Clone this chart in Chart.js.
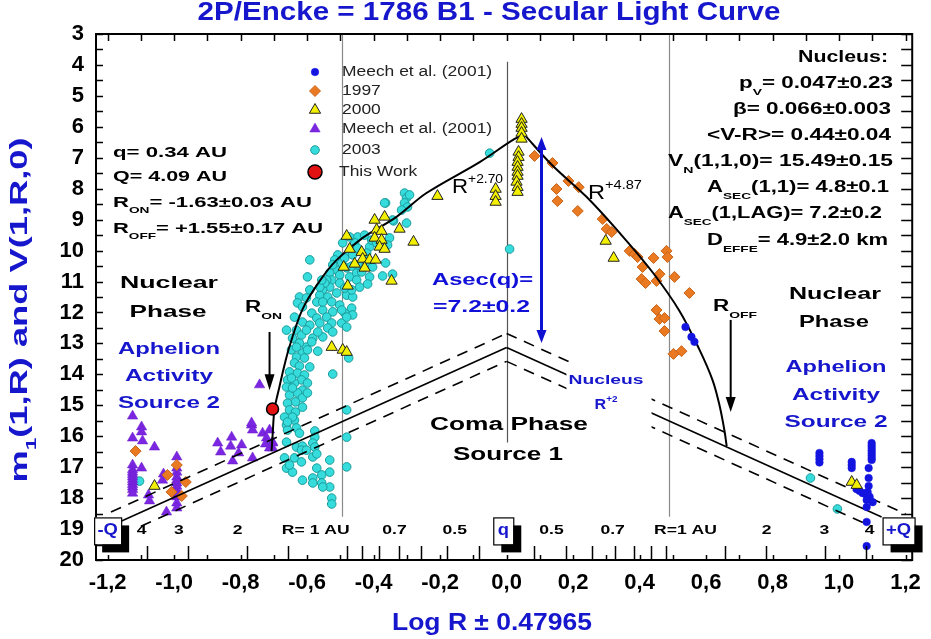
<!DOCTYPE html>
<html><head><meta charset="utf-8">
<script src="https://cdn.jsdelivr.net/npm/chart.js@4/dist/chart.umd.min.js"></script>
<style>html,body{margin:0;padding:0;background:#fff;}#wrap{width:931px;height:639px;}</style>
</head><body><div id="wrap"><canvas id="c" width="931" height="639"></canvas></div>
<script>
// ---------- DATA (x = Log R ± 0.47965, y = magnitude) ----------
const xTickValues = [-1.2,-1.0,-0.8,-0.6,-0.4,-0.2,0,0.2,0.4,0.6,0.8,1.0,1.2];
const yTickValues = [3,4,5,6,7,8,9,10,11,12,13,14,15,16,17,18,19,20];

const meech2001Circles = [[0.538,12.47],[0.556,12.79],[0.565,12.95],
 [0.941,16.54],[0.941,16.64],[0.941,16.74],[0.941,16.85],
 [1.038,16.83],[1.038,16.93],[1.038,17.03],
 [1.098,16.22],[1.098,16.30],[1.098,16.38],[1.098,16.46],[1.098,16.54],[1.098,16.62],[1.098,16.70],[1.098,16.77],
 [1.089,17.03],[1.089,17.35],[1.089,17.61],[1.086,17.80],[1.083,17.90],[1.092,17.96],[1.071,17.84],[1.062,17.77],
 [1.053,17.71],[1.083,18.06],[1.101,18.13],[1.083,18.29],[1.083,18.77],[1.083,19.55]];

const y1997 = [[0.084,6.94],[0.138,7.17],[0.186,7.75],[0.217,7.95],[0.150,8.01],[0.153,8.40],[0.214,8.72],[0.289,8.98],
 [0.301,9.30],[0.316,9.40],[0.370,10.01],[0.385,10.11],[0.394,10.21],[0.442,10.24],[0.481,10.01],[0.484,10.21],
 [0.409,10.53],[0.460,10.76],[0.505,10.85],[0.406,10.92],[0.418,11.05],[0.451,10.98],[0.550,11.37],[0.451,11.92],
 [0.460,12.21],[0.475,12.18],[0.475,12.60],[0.502,13.34],[0.526,13.25],
 [-1.116,16.48],[-0.992,16.93],[-1.020,17.25],[-0.965,17.48],[-1.008,17.80],[-0.977,17.93]];

const y2000 = [[-0.208,8.24],[-0.397,9.01],[-0.367,8.91],[-0.322,9.30],[-0.481,9.53],[-0.391,9.33],[-0.376,9.37],
 [-0.397,9.59],[-0.376,9.66],[-0.280,9.72],[-0.472,9.95],[-0.436,10.05],[-0.382,9.88],[-0.367,9.95],[-0.433,10.27],
 [-0.412,10.30],[-0.394,10.30],[-0.457,10.43],[-0.427,10.56],[-0.490,10.53],[-0.346,10.98],[-0.478,11.14],
 [-0.526,13.12],[-0.493,13.21],[-0.481,13.28],
 [0.045,5.75],[0.045,5.91],[0.045,6.04],[0.045,6.20],[0.045,6.39],[0.036,6.81],[0.036,6.98],[0.033,7.14],
 [0.033,7.30],[0.033,7.46],[0.033,7.59],[0.030,7.78],[0.033,7.95],[0.033,8.11],
 [-0.033,8.01],[-0.033,8.24],[-0.033,8.43],
 [0.298,9.69],[0.322,10.24],[-1.059,17.61],[1.038,17.48],[1.053,17.58]];

const meech2001Triangles = [[-1.125,15.35],[-1.098,15.70],[-1.098,15.86],[-1.125,16.06],[-1.095,16.15],[-1.059,16.35],
 [-1.125,16.93],[-1.098,17.03],[-1.125,17.08],[-1.125,17.16],[-1.125,17.24],[-1.125,17.32],[-1.125,17.40],[-1.125,17.48],
 [-1.125,17.56],[-1.125,17.64],[-1.125,17.72],[-1.125,17.84],[-1.077,17.90],[-1.074,18.09],[-1.032,17.22],[-1.035,17.42],
 [-0.992,16.67],[-0.992,17.03],[-0.992,17.16],[-0.992,17.32],[-0.992,17.42],[-0.992,17.51],[-0.992,17.62],[-0.992,17.74],
 [-0.992,17.85],[-0.992,17.96],[-0.992,18.16],[-0.992,18.32],[-1.023,18.45],
 [-0.869,16.22],[-0.827,16.03],[-0.830,16.32],[-0.797,16.28],[-0.860,16.51],[-0.806,16.54],[-0.824,16.80],[-0.764,16.70],
 [-0.767,15.64],[-0.764,15.80],[-0.734,15.90],[-0.722,16.06],[-0.713,15.80],[-0.704,16.19],[-0.704,16.38],[-0.743,14.34],
 [-0.767,15.57],[-0.704,16.22],[-0.713,16.38],[-0.725,16.25]];

const y2003 = [[-0.307,8.14],[-0.301,8.30],[-0.307,8.46],[-0.298,8.59],[-0.316,8.69],[-0.292,8.20],[-0.364,8.46],
 [-0.340,9.04],[-0.301,9.11],[-0.352,9.59],[-0.358,9.82],[-0.364,10.40],[-0.373,10.82],[-0.343,10.76],[-0.412,9.88],
 [-0.421,10.08],[-0.412,10.85],[-0.448,9.56],[-0.427,9.50],[-0.457,9.75],[-0.472,10.05],[-0.508,10.14],[-0.517,10.30],
 [-0.496,10.40],[-0.481,10.56],[-0.511,10.63],[-0.532,10.72],[-0.502,10.79],[-0.472,10.85],[-0.451,10.72],[-0.436,10.69],
 [-0.526,10.95],[-0.502,11.05],[-0.532,11.18],[-0.553,11.27],[-0.511,11.37],[-0.481,11.44],[-0.463,11.50],[-0.562,11.44],
 [-0.538,11.50],[-0.571,11.66],[-0.526,11.66],[-0.502,11.76],[-0.466,11.86],[-0.553,11.92],[-0.523,11.98],[-0.487,12.02],
 [-0.592,10.30],[-0.599,10.85],[-0.623,11.50],[-0.629,11.69],[-0.614,11.82],[-0.586,12.02],[-0.571,12.18],[-0.638,12.15],
 [-0.614,12.31],[-0.592,12.41],[-0.541,12.15],[-0.526,12.34],[-0.496,12.34],[-0.481,12.47],[-0.538,12.50],[-0.523,12.63],
 [-0.662,12.57],[-0.632,12.57],[-0.617,12.73],[-0.583,12.83],[-0.553,12.79],[-0.629,12.99],[-0.602,13.12],[-0.644,12.83],
 [-0.623,12.99],[-0.586,12.95],[-0.568,13.25],[-0.614,13.31],[-0.632,13.44],[-0.608,13.47],[-0.638,13.63],[-0.623,13.73],
 [-0.592,13.76],[-0.653,13.92],[-0.629,13.96],[-0.608,14.02],[-0.659,14.18],[-0.617,14.18],[-0.638,14.28],[-0.662,14.41],
 [-0.614,14.51],[-0.629,14.60],[-0.653,14.67],[-0.614,14.76],[-0.635,14.89],[-0.659,14.93],[-0.614,15.06],[-0.653,15.15],
 [-0.635,15.22],[-0.668,15.38],[-0.638,15.48],[-0.662,15.64],[-0.632,15.73],[-0.659,15.80],[-0.577,15.83],[-0.577,16.03],
 [-0.662,16.19],[-0.632,16.35],[-0.614,16.32],[-0.617,16.45],[-0.583,16.22],[-0.577,16.35],[-0.638,16.70],[-0.668,16.70],
 [-0.583,16.67],[-0.571,16.57],[-0.662,17.03],[-0.644,17.16],[-0.571,17.03],[-0.556,17.25],[-0.532,17.16],[-0.532,16.77],
 [-0.614,17.42],[-0.583,17.35],[-0.583,17.51],[-0.556,17.51],[-0.532,17.64],[-0.526,18.00],[-0.526,18.19],
 [-0.481,15.15],[-0.481,16.03],[-0.481,16.99],[-0.475,13.47],[-0.523,13.99],
 [-0.523,10.46],[-0.487,10.24],[-0.463,10.14],[-0.448,9.92],[-0.466,10.50],[-0.448,10.46],[-0.421,10.40],[-0.403,10.53],
 [-0.406,9.66],[-0.391,9.75],[-0.472,9.56],[-0.493,9.75],[-0.541,10.95],[-0.547,11.05],[-0.562,11.18],[-0.556,10.95],
 [-0.592,11.27],[-0.602,11.53],[-0.451,10.95],[-0.442,11.18],[-0.466,11.27],[-0.487,11.21],[-0.553,11.66],[-0.496,11.92],
 [-0.463,12.08],[-0.562,12.34],[-0.602,12.57],[-0.568,12.63],[-0.481,12.15],
 [-0.647,13.21],[-0.632,13.12],[-0.599,13.21],[-0.647,14.12],[-0.599,14.28],[-0.644,14.44],[-0.599,14.60],[-0.644,15.38],
 [-0.659,15.54],[-0.623,15.90],[-0.602,16.45],[-0.653,16.93],[-0.617,16.83],[-0.553,17.64],
 [-0.051,6.85],[-0.367,8.46],[-0.343,9.01],[-0.418,11.08],[0.009,9.95],[-1.104,17.45],[0.914,17.35],[0.995,18.35]];

const thisWork = [[-0.704,15.12]];

// fitted curves and nucleus lines
const fitRon = [[-0.707,16.48],[-0.704,16.0],[-0.698,15.13],[-0.683,14.39],[-0.668,13.7],[-0.653,13.1],[-0.614,11.9],
 [-0.562,10.98],[-0.511,10.3],[-0.433,9.59],[-0.331,8.91],[-0.241,8.14],[-0.081,7.14],[0.024,6.39],[0.054,6.26]];
const fitRoff = [[0.054,6.26],[0.138,7.25],[0.241,8.27],[0.340,9.43],[0.439,10.7],[0.520,11.95],[0.580,13.2],
 [0.620,14.2],[0.641,15.03],[0.655,15.8],[0.662,16.32]];
const nucleusLeft = [[-1.158,18.74],[0,13.13]];
const nucleusRight = [[0,13.13],[1.128,18.61]];
const nucleusLeftUpper = [[-1.19,18.45],[0,12.68]];
const nucleusLeftLower = [[-1.10,18.91],[0,13.58]];
const nucleusRightUpper = [[0,12.68],[1.20,18.51]];
const nucleusRightLower = [[0,13.58],[1.08,18.83]];

const auLineX = [-0.495, 0.487];
const rAxisLabels = ['4','3','2','R= 1 AU','0.7','0.5','0.5','0.7','R=1 AU','2','3','4'];
const rAxisPos = [-1.098,-0.986,-0.809,-0.574,-0.337,-0.156,0.135,0.319,0.538,0.782,0.956,1.092];
const rMinorTicks = [-1.082,-0.957,-0.781,-0.656,-0.48,-0.434,-0.383,-0.325,-0.258,-0.179,-0.082,
 0.082,0.179,0.258,0.325,0.383,0.434,0.48,0.656,0.781,0.957,1.082];

// ---------- helpers ----------
const SANS = '"Liberation Sans", Arial, Helvetica, sans-serif';
const NARROW = '"Liberation Sans Narrow", "Arial Narrow", "Liberation Sans", Arial, sans-serif';
const toXY = a => a.map(p => ({x:p[0], y:p[1]}));

function rich(ctx, segs, x, y, o) {
  const size = o.size, weight = o.weight || 'bold', fam = o.family || SANS;
  const parts = segs.map(s => {
    const isObj = typeof s === 'object';
    const t = isObj ? s.t : s;
    const sub = isObj && s.sub === 1, sup = isObj && s.sup === 1;
    const sz = (sub || sup) ? size * 0.62 : size;
    ctx.font = `${weight} ${sz}px ${fam}`;
    return {t, sz, sub, sup, w: ctx.measureText(t).width};
  });
  const nat = parts.reduce((a, p) => a + p.w, 0);
  const k = o.width ? o.width / nat : (o.hs || 1);
  const tot = nat * k;
  const x0 = o.align === 'right' ? x - tot : (o.align === 'left' ? x : x - tot / 2);
  ctx.save();
  ctx.fillStyle = o.color || '#000';
  ctx.textBaseline = 'middle'; ctx.textAlign = 'left';
  ctx.translate(x0, y); ctx.scale(k, 1);
  let cx = 0;
  for (const p of parts) {
    ctx.font = `${weight} ${p.sz}px ${fam}`;
    const dy = p.sub ? size * 0.5 : (p.sup ? -size * 0.38 : 0);
    ctx.fillText(p.t, cx, dy);
    cx += p.w;
  }
  ctx.restore();
}

function arrow(ctx, x, y1, y2, color, lw, hl, hw) {
  ctx.save(); ctx.strokeStyle = color; ctx.fillStyle = color; ctx.lineWidth = lw;
  const dir = y2 > y1 ? 1 : -1;
  ctx.beginPath(); ctx.moveTo(x, y1); ctx.lineTo(x, y2 - dir * hl * 0.6); ctx.stroke();
  ctx.beginPath(); ctx.moveTo(x, y2); ctx.lineTo(x - hw, y2 - dir * hl); ctx.lineTo(x + hw, y2 - dir * hl); ctx.closePath(); ctx.fill();
  ctx.restore();
}

const BLUE = '#1616cc';

const decor = {
  id: 'decor',
  beforeDatasetsDraw(chart) {
    const {ctx, scales: {x, y}} = chart;
    ctx.save();
    ctx.strokeStyle = '#8a8a8a'; ctx.lineWidth = 1.2;
    for (const v of auLineX) {
      const p = Math.round(x.getPixelForValue(v)) + 0.5;
      ctx.beginPath(); ctx.moveTo(p, y.getPixelForValue(3)); ctx.lineTo(p, y.getPixelForValue(18.6)); ctx.stroke();
    }
    ctx.strokeStyle = '#555'; ctx.lineWidth = 1.2;
    const p0 = Math.round(x.getPixelForValue(0)) + 0.5;
    ctx.beginPath(); ctx.moveTo(p0, y.getPixelForValue(3.9)); ctx.lineTo(p0, y.getPixelForValue(16.2)); ctx.stroke();
    ctx.restore();
  },
  afterDatasetsDraw(chart) {
    const {ctx, chartArea: a, scales: {x, y}} = chart;
    const X = v => x.getPixelForValue(v), Y = v => y.getPixelForValue(v);
    // white box behind "Nucleus R+2" label (interrupts nucleus lines)
    ctx.save(); ctx.fillStyle = '#fff';
    ctx.fillRect(X(0.18), Y(13.6), X(0.436) - X(0.18), Y(16.2) - Y(13.6));
    ctx.restore();

    // arrows
    arrow(ctx, X(-0.713), Y(12.63), Y(14.51), '#000', 2, 16, 5);
    arrow(ctx, X(0.674), Y(12.24), Y(15.22), '#000', 2, 15, 5);
    // blue double arrow Asec(q)
    ctx.save(); ctx.strokeStyle = '#1010d0'; ctx.fillStyle = '#1010d0'; ctx.lineWidth = 3;
    const bx = X(0.105), bt = Y(6.33), bb = Y(12.99);
    ctx.beginPath(); ctx.moveTo(bx, bt + 8); ctx.lineTo(bx, bb - 8); ctx.stroke();
    ctx.beginPath(); ctx.moveTo(bx, bt); ctx.lineTo(bx - 5, bt + 13); ctx.lineTo(bx + 5, bt + 13); ctx.closePath(); ctx.fill();
    ctx.beginPath(); ctx.moveTo(bx, bb); ctx.lineTo(bx - 5, bb - 13); ctx.lineTo(bx + 5, bb - 13); ctx.closePath(); ctx.fill();
    ctx.restore();

    // frame & ticks
    ctx.save(); ctx.strokeStyle = '#000'; ctx.lineWidth = 2;
    ctx.strokeRect(a.left, a.top, a.right - a.left, a.bottom - a.top);
    ctx.lineWidth = 1.5;
    ctx.beginPath();
    for (let v = 3; v <= 20.001; v += 0.5) {
      const py = Math.round(Y(v)) + 0.5;
      ctx.moveTo(a.left, py); ctx.lineTo(a.left + 7, py);
      ctx.moveTo(a.right, py); ctx.lineTo(a.right - 11, py);
    }
    for (let i = -12; i <= 12; i++) {
      const px = Math.round(X(i / 10)) + 0.5;
      ctx.moveTo(px, a.top); ctx.lineTo(px, a.top + 7);
      ctx.moveTo(px, a.bottom); ctx.lineTo(px, a.bottom - 5);
    }
    for (const v of rMinorTicks) {
      const px = Math.round(X(v)) + 0.5;
      ctx.moveTo(px, a.bottom); ctx.lineTo(px, a.bottom - 14);
    }
    ctx.stroke();
    ctx.restore();

    // secondary R axis labels
    rAxisLabels.forEach((t, i) => rich(ctx, [t], X(rAxisPos[i]), Y(19.03), {size: 13, hs: 1.35, align: 'center'}));

    // Q / q boxes
    const box = (cx, w, label) => {
      const top = Y(19.06) - 13.5, h = 27, l = cx - w / 2;
      ctx.save(); ctx.fillStyle = '#000'; ctx.fillRect(l + 8, top + 8, w, h);
      ctx.fillStyle = '#fff'; ctx.fillRect(l, top, w, h);
      ctx.strokeStyle = '#000'; ctx.lineWidth = 1.2; ctx.strokeRect(l + 0.5, top + 0.5, w, h);
      ctx.restore();
      rich(ctx, [label], cx, top + h / 2, {size: 16, hs: 1.15, color: BLUE, align: 'center'});
    };
    box(X(-1.2), 27, '-Q');
    box(X(-0.01), 20, 'q');
    box(X(1.179), 32, '+Q');

    // text annotations
    const T = (segs, px, py, o) => rich(ctx, segs, px, py, o);
    T(['q= 0.34 AU'], 113, 153, {size: 15, align: 'left', width: 114});
    T(['Q= 4.09 AU'], 113, 177, {size: 15, align: 'left', width: 114});
    T(['R', {t: 'ON', sub: 1}, '= -1.63±0.03 AU'], 113, 203, {size: 15, align: 'left', width: 199});
    T(['R', {t: 'OFF', sub: 1}, '= +1.55±0.17 AU'], 113, 229, {size: 15, align: 'left', width: 210});

    T(['Nucleus:'], 888, 58, {size: 16, align: 'right', width: 90});
    T(['p', {t: 'V', sub: 1}, '= 0.047±0.23'], 893, 84, {size: 16, align: 'right', width: 154});
    T(['β= 0.066±0.003'], 891, 110, {size: 16, align: 'right', width: 158});
    T(['<V-R>= 0.44±0.04'], 891, 136, {size: 16, align: 'right', width: 184});
    T(['V', {t: 'N', sub: 1}, '(1,1,0)= 15.49±0.15'], 893, 162, {size: 16, align: 'right', width: 225});
    T(['A', {t: 'SEC', sub: 1}, '(1,1)= 4.8±0.1'], 889, 188, {size: 16, align: 'right', width: 182});
    T(['A', {t: 'SEC', sub: 1}, '(1,LAG)= 7.2±0.2'], 882, 214, {size: 16, align: 'right', width: 214});
    T(['D', {t: 'EFFE', sub: 1}, '= 4.9±2.0 km'], 888, 241, {size: 16, align: 'right', width: 181});

    T(['Nuclear'], 169, 283, {size: 17, width: 98});
    T(['Phase'], 168, 312, {size: 17, width: 77});
    T(['Aphelion'], 169, 350, {size: 16, width: 102, color: BLUE});
    T(['Activity'], 169, 377, {size: 16, width: 88, color: BLUE});
    T(['Source 2'], 169, 404, {size: 16, width: 102, color: BLUE});

    T(['Nuclear'], 835, 294, {size: 17, width: 92});
    T(['Phase'], 834, 322, {size: 17, width: 70});
    T(['Aphelion'], 836, 368, {size: 16, width: 101, color: BLUE});
    T(['Activity'], 836, 396, {size: 16, width: 88, color: BLUE});
    T(['Source 2'], 836, 423, {size: 16, width: 103, color: BLUE});

    T(['Coma Phase'], 509, 425, {size: 18, width: 158});
    T(['Source 1'], 508, 455, {size: 18, width: 110});

    T(['Asec(q)='], 432, 280, {size: 17, align: 'left', width: 101, color: '#1010d8'});
    T(['=7.2±0.2'], 433, 307, {size: 17, align: 'left', width: 97, color: '#1010d8'});

    T(['Nucleus'], 606, 380, {size: 13, width: 75, color: BLUE});
    T(['R', {t: '+2', sup: 1}], 606, 405, {size: 14, width: 23, color: BLUE});

    T(['R', {t: '+2.70', sup: 1}], 452, 187, {size: 20, weight: '400', align: 'left', width: 51});
    T(['R', {t: '+4.87', sup: 1}], 588, 193, {size: 20, weight: '400', align: 'left', width: 54});
    T(['R', {t: 'ON', sub: 1}], 245, 308, {size: 16, align: 'left', width: 37});
    T(['R', {t: 'OFF', sub: 1}], 713, 307, {size: 16, align: 'left', width: 44});

    // legend
    const rows = [72, 91, 110, 129, 150, 172];
    chart.data.datasets.filter(d => d.legendRow !== undefined).forEach(d => {
      const ry = rows[d.legendRow];
      ctx.save();
      ctx.fillStyle = d.backgroundColor; ctx.strokeStyle = d.borderColor; ctx.lineWidth = d.borderWidth;
      Chart.helpers.drawPoint(ctx, {pointStyle: d.pointStyle, radius: d.legendRadius || d.pointRadius, borderWidth: d.borderWidth, rotation: 0}, 315, ry);
      ctx.restore();
      T([d.label], d.legendRow === 5 ? 339 : 342, ry, {size: 14, weight: '400', align: 'left', hs: 1.245, color: '#222'});
    });
  },
  afterDraw(chart) {
    const {ctx} = chart;
    rich(ctx, ['2P/Encke = 1786 B1 - Secular Light Curve'], 489, 13, {size: 26, width: 583, color: BLUE});
    rich(ctx, ['Log R ± 0.47965'], 492, 624, {size: 23, width: 200, color: BLUE});
    ctx.save(); ctx.translate(21, 310); ctx.rotate(-Math.PI / 2);
    rich(ctx, ['m', {t: '1', sub: 1}, '(1,R) and V(1,R,0)'], 0, 0, {size: 23, width: 345, color: BLUE});
    ctx.restore();
  }
};

const lineDs = (data, dash, width, order) => ({
  data: toXY(data), showLine: true, pointRadius: 0, borderColor: '#000', backgroundColor: '#000',
  borderWidth: width, borderDash: dash, fill: false, tension: 0, order
});

const datasets = [
  {label: 'This Work', data: toXY(thisWork), pointStyle: 'circle', pointRadius: 6, legendRadius: 7,
   backgroundColor: '#e21212', borderColor: '#000', borderWidth: 1.5, order: 0, legendRow: 5},
  {label: '2000', data: toXY(y2000), pointStyle: 'triangle', pointRadius: 6.5,
   backgroundColor: '#f2f000', borderColor: '#222', borderWidth: 1, order: 1, legendRow: 2},
  {label: 'Meech et al. (2001)', data: toXY(meech2001Circles), pointStyle: 'circle', pointRadius: 3.8,
   backgroundColor: '#1414e0', borderColor: '#1414e0', borderWidth: 0.5, order: 2, legendRow: 0},
  Object.assign(lineDs(fitRon, [], 2, 3), {tension: 0.35}),
  Object.assign(lineDs(fitRoff, [], 2, 3), {tension: 0.35}),
  lineDs(nucleusLeft, [], 1.6, 3),
  lineDs(nucleusRight, [], 1.6, 3),
  lineDs(nucleusLeftUpper, [11, 8], 1.6, 3),
  lineDs(nucleusLeftLower, [11, 8], 1.6, 3),
  lineDs(nucleusRightUpper, [11, 8], 1.6, 3),
  lineDs(nucleusRightLower, [11, 8], 1.6, 3),
  {label: '1997', data: toXY(y1997), pointStyle: 'rectRot', pointRadius: 5.5,
   backgroundColor: '#ea7a22', borderColor: '#c8641a', borderWidth: 1, order: 4, legendRow: 1},
  {label: 'Meech et al. (2001)', data: toXY(meech2001Triangles), pointStyle: 'triangle', pointRadius: 6,
   backgroundColor: '#7b26e0', borderColor: '#6a1ccc', borderWidth: 0.5, order: 5, legendRow: 3},
  {label: '2003', data: toXY(y2003), pointStyle: 'circle', pointRadius: 4.3,
   backgroundColor: '#36dcdc', borderColor: '#1b9b9b', borderWidth: 1, order: 6, legendRow: 4}
];

new Chart(document.getElementById('c'), {
  type: 'scatter',
  data: {datasets},
  options: {
    responsive: false, animation: false, devicePixelRatio: 1, events: [],
    layout: {padding: {left: 0, right: 18, top: 34, bottom: 0}},
    plugins: {legend: {display: false}, tooltip: {enabled: false}, title: {display: false}},
    scales: {
      x: {
        type: 'linear', min: -1.235, max: 1.22,
        afterBuildTicks: s => { s.ticks = xTickValues.map(v => ({value: v})); },
        afterFit: s => { s.height = 79; },
        grid: {display: false, drawTicks: false}, border: {display: false},
        ticks: {autoSkip: false, maxRotation: 0, padding: 10, color: '#000',
          font: {family: NARROW, size: 22, weight: 'bold'},
          callback: v => (Math.abs(v) < 1e-9 ? 0 : v).toFixed(1).replace('.', ',')}
      },
      y: {
        type: 'linear', reverse: true, min: 3, max: 20,
        afterBuildTicks: s => { s.ticks = yTickValues.map(v => ({value: v})); },
        afterFit: s => { s.width = 96; },
        grid: {display: false, drawTicks: false}, border: {display: false},
        ticks: {autoSkip: false, padding: 12, color: '#000', font: {family: NARROW, size: 22, weight: 'bold'}}
      }
    }
  },
  plugins: [decor]
});
</script>
</body></html>
